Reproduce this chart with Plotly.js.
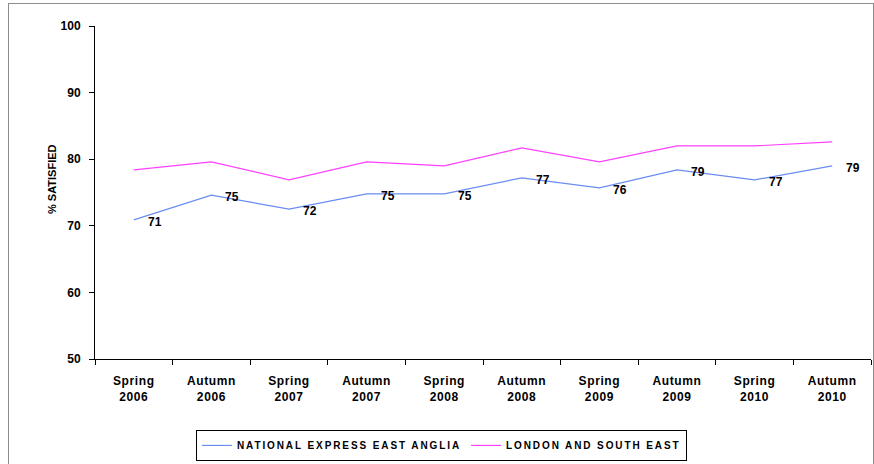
<!DOCTYPE html>
<html>
<head>
<meta charset="utf-8">
<script src="https://cdn.plot.ly/plotly-3.0.1.min.js"></script>
<style>
  html, body { margin: 0; padding: 0; background: #fff; overflow: hidden; }
  #chart { position: absolute; left: 0; top: 0; width: 874px; height: 464px; }
  #frame { position: absolute; left: 8px; top: 3px; width: 864px; height: 480px; border: 1px solid #8c8c8c; pointer-events: none; }
  .legendtext { letter-spacing: 1.9px; }
  .xtick text { letter-spacing: 0.6px; }
</style>
</head>
<body>
<div id="chart"></div>
<div id="frame"></div>
<script>
const periods = ["Spring 2006", "Autumn 2006", "Spring 2007", "Autumn 2007", "Spring 2008",
                 "Autumn 2008", "Spring 2009", "Autumn 2009", "Spring 2010", "Autumn 2010"];
const tickLabels = ["Spring<br>2006", "Autumn<br>2006", "Spring<br>2007", "Autumn<br>2007", "Spring<br>2008",
                    "Autumn<br>2008", "Spring<br>2009", "Autumn<br>2009", "Spring<br>2010", "Autumn<br>2010"];
const nxeaName = "NATIONAL EXPRESS EAST ANGLIA";
const lseName = "LONDON AND SOUTH EAST";
const nxeaValues = [70.9, 74.6, 72.5, 74.8, 74.8, 77.2, 75.7, 78.4, 76.9, 79.0];
const nxeaLabels = ["71", "75", "72", "75", "75", "77", "76", "79", "77", "79"];
const lseValues = [78.4, 79.6, 76.9, 79.6, 79.0, 81.7, 79.6, 82.0, 82.0, 82.6];
const yTicks = [50, 60, 70, 80, 90, 100];

const FONT = "Liberation Sans, Arial, sans-serif";

const traces = [
  { x: periods, y: nxeaValues, name: nxeaName, type: "scatter", mode: "lines",
    line: { color: "#6a8cf2", width: 1.2 } },
  { x: periods, y: lseValues, name: lseName, type: "scatter", mode: "lines",
    line: { color: "#ff40ff", width: 1.2 } }
];

const annotations = periods.map((p, i) => ({
  x: p, y: nxeaValues[i], xref: "x", yref: "y", text: nxeaLabels[i],
  showarrow: false, xshift: 21, yshift: -2,
  font: { family: FONT, size: 12, weight: "bold", color: "#000" }
}));
annotations.push({
  xref: "paper", yref: "paper", x: -0.066, y: 0.54, textangle: -90,
  text: "% SATISFIED", showarrow: false,
  font: { family: FONT, size: 11, weight: "bold", color: "#000" }
});

const layout = {
  width: 874, height: 464,
  margin: { l: 95, r: 3, t: 26, b: 105 },
  paper_bgcolor: "#fff", plot_bgcolor: "#fff",
  showlegend: true,
  legend: {
    orientation: "h", x: 0.13, xanchor: "left", y: -0.213, yanchor: "top",
    bordercolor: "#000", borderwidth: 1, bgcolor: "#fff",
    font: { family: FONT, size: 10, weight: "bold", color: "#000" },
    itemwidth: 30, tracegroupgap: 0
  },
  xaxis: {
    type: "category", tickmode: "array", tickvals: periods, ticktext: tickLabels,
    tickson: "boundaries", ticks: "outside", ticklen: 5, tickcolor: "#000",
    showline: true, linecolor: "#000", linewidth: 1, showgrid: false, zeroline: false,
    tickfont: { family: FONT, size: 12, weight: "bold", color: "#000" },
    ticklabelstandoff: 11,
    range: [-0.5, 9.5], fixedrange: true
  },
  yaxis: {
    range: [50, 100], tickmode: "array", tickvals: yTicks,
    ticks: "outside", ticklen: 5, tickcolor: "#000",
    showline: true, linecolor: "#000", linewidth: 1, showgrid: false, zeroline: false,
    tickfont: { family: FONT, size: 12, weight: "bold", color: "#000" },
    ticklabelstandoff: 6, fixedrange: true
  },
  annotations: annotations
};

Plotly.newPlot("chart", traces, layout, { displayModeBar: false, staticPlot: true });
</script>
</body>
</html>
